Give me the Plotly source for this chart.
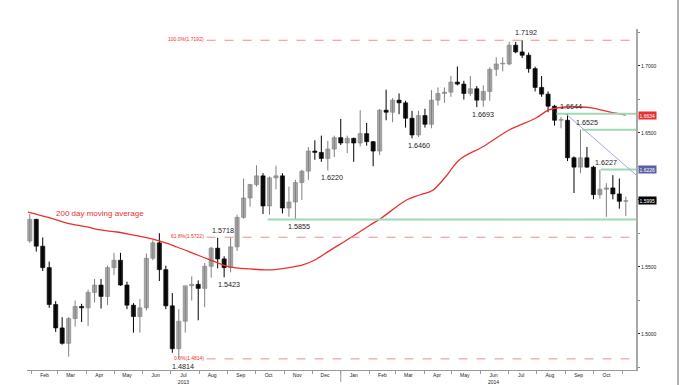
import pandas as pd
import plotly.graph_objects as go

# ---------------- data (GBP/USD, weekly OHLC) ----------------
first_week_mid = "2013-01-30"
opens = [1.5695, 1.5855, 1.5655, 1.5495, 1.5220, 1.5045, 1.4930, 1.5115, 1.5205, 1.5195,
         1.5310, 1.5365, 1.5280, 1.5495, 1.5550, 1.5365, 1.5215, 1.5130, 1.5195, 1.5565,
         1.5680, 1.5480, 1.5210, 1.4890, 1.5095, 1.5360, 1.5370, 1.5340, 1.5505, 1.5640,
         1.5560, 1.5495, 1.5650, 1.5870, 1.6015, 1.6115, 1.6180, 1.5955, 1.6165, 1.6180,
         1.5940, 1.5985, 1.6130, 1.6215, 1.6365, 1.6355, 1.6310, 1.6380, 1.6465,
         1.6425, 1.6460, 1.6425, 1.6495, 1.6435, 1.6365, 1.6670, 1.6655, 1.6745, 1.6725,
         1.6610, 1.6485, 1.6630, 1.6565, 1.6745, 1.6795, 1.6805, 1.6880, 1.6865, 1.6795,
         1.6830, 1.6745, 1.6810, 1.6975, 1.7015, 1.7015, 1.7155, 1.7105, 1.7080, 1.6980,
         1.6840, 1.6790, 1.6700, 1.6595, 1.6595, 1.6315, 1.6245, 1.6315, 1.6245, 1.6040,
         1.6080, 1.6090, 1.6045, 1.5990]
highs = [1.5895, 1.5860, 1.5720, 1.5540, 1.5245, 1.5125, 1.5125, 1.5250, 1.5225, 1.5330,
         1.5410, 1.5410, 1.5510, 1.5605, 1.5605, 1.5390, 1.5230, 1.5260, 1.5600, 1.5700,
         1.5752, 1.5510, 1.5305, 1.5185, 1.5350, 1.5430, 1.5400, 1.5530, 1.5650, 1.5718,
         1.5580, 1.5720, 1.5890, 1.6160, 1.6120, 1.6259, 1.6200, 1.6175, 1.6255, 1.6200,
         1.6100, 1.6150, 1.6225, 1.6395, 1.6445, 1.6480, 1.6440, 1.6480, 1.6605,
         1.6480, 1.6465, 1.6670, 1.6575, 1.6440, 1.6680, 1.6823, 1.6760, 1.6795, 1.6740,
         1.6665, 1.6665, 1.6680, 1.6820, 1.6840, 1.6840, 1.6925, 1.6996, 1.6890, 1.6925,
         1.6850, 1.6855, 1.6990, 1.7065, 1.7065, 1.7180, 1.7180, 1.7192, 1.7100, 1.6995,
         1.6925, 1.6810, 1.6710, 1.6620, 1.6644, 1.6325, 1.6525, 1.6395, 1.6255, 1.6227,
         1.6125, 1.6185, 1.6160, 1.6025]
lows = [1.5680, 1.5615, 1.5470, 1.5195, 1.5015, 1.4920, 1.4831, 1.5055, 1.5090, 1.5060,
        1.5235, 1.5190, 1.5215, 1.5440, 1.5360, 1.5185, 1.5010, 1.5010, 1.5175, 1.5550,
        1.5395, 1.5185, 1.4860, 1.4814, 1.5010, 1.5250, 1.5102, 1.5200, 1.5420, 1.5490,
        1.5423, 1.5460, 1.5620, 1.5860, 1.5950, 1.6100, 1.5895, 1.5890, 1.6080, 1.5900,
        1.5875, 1.5855, 1.6000, 1.6150, 1.6300, 1.6285, 1.6220, 1.6320, 1.6410,
        1.6350, 1.6285, 1.6400, 1.6405, 1.6252, 1.6335, 1.6595, 1.6580, 1.6640, 1.6540,
        1.6460, 1.6470, 1.6540, 1.6535, 1.6705, 1.6725, 1.6770, 1.6855, 1.6750, 1.6775,
        1.6693, 1.6695, 1.6740, 1.6925, 1.6960, 1.7005, 1.7095, 1.7060, 1.6950, 1.6810,
        1.6770, 1.6655, 1.6555, 1.6535, 1.6290, 1.6052, 1.6200, 1.6240, 1.6005, 1.6010,
        1.5875, 1.6005, 1.5935, 1.5880]
closes = [1.5855, 1.5655, 1.5495, 1.5220, 1.5045, 1.4930, 1.5115, 1.5205, 1.5195, 1.5310,
          1.5365, 1.5280, 1.5495, 1.5550, 1.5365, 1.5215, 1.5130, 1.5195, 1.5565, 1.5680,
          1.5480, 1.5210, 1.4890, 1.5095, 1.5360, 1.5370, 1.5340, 1.5505, 1.5640, 1.5560,
          1.5495, 1.5650, 1.5870, 1.6015, 1.6115, 1.6180, 1.5955, 1.6165, 1.6180, 1.5940,
          1.5985, 1.6130, 1.6215, 1.6365, 1.6355, 1.6310, 1.6380, 1.6465, 1.6425,
          1.6460, 1.6425, 1.6495, 1.6435, 1.6365, 1.6670, 1.6655, 1.6745, 1.6725, 1.6610,
          1.6485, 1.6630, 1.6565, 1.6745, 1.6795, 1.6805, 1.6880, 1.6865, 1.6795, 1.6830,
          1.6745, 1.6810, 1.6975, 1.7015, 1.7015, 1.7155, 1.7105, 1.7080, 1.6980, 1.6840,
          1.6790, 1.6700, 1.6595, 1.6595, 1.6315, 1.6245, 1.6315, 1.6245, 1.6040, 1.6080,
          1.6090, 1.6045, 1.5990, 1.5995]

ma_dates = ["2013-01-28", "2013-02-21", "2013-03-11", "2013-04-02", "2013-04-16", "2013-05-04",
            "2013-05-21", "2013-06-01", "2013-06-19", "2013-07-08", "2013-07-25", "2013-08-10",
            "2013-09-03", "2013-09-25", "2013-10-16", "2013-11-04", "2013-11-21", "2013-12-04",
            "2013-12-20", "2014-01-11", "2014-02-01", "2014-02-14", "2014-03-02", "2014-03-13",
            "2014-03-27", "2014-04-10", "2014-04-25", "2014-05-09", "2014-06-05", "2014-07-02",
            "2014-07-31", "2014-08-14", "2014-09-01", "2014-09-15", "2014-09-29", "2014-10-18",
            "2014-11-05"]
ma_values = [1.5910, 1.5866, 1.5828, 1.5799, 1.5776, 1.5761, 1.5739, 1.5724, 1.5694, 1.5649,
             1.5604, 1.5560, 1.5500, 1.5485, 1.5478, 1.5493, 1.5515, 1.5552, 1.5622, 1.5716,
             1.5810, 1.5866, 1.5948, 1.6000, 1.6037, 1.6071, 1.6179, 1.6299, 1.6403, 1.6522,
             1.6612, 1.6672, 1.6694, 1.6694, 1.6687, 1.6657, 1.6634]

fib_levels = [1.7192, 1.5722, 1.4814]
fib_labels = ["100.0%(1.7192)", "61.8%(1.5722)", "0.0%(1.4814)"]
fib_start = "2013-08-09"

level_values = [1.5855, 1.6644, 1.6525, 1.6227]
level_starts = ["2013-10-14", "2014-08-22", "2014-09-19", "2014-10-09"]

trend_dates = ["2014-09-01", "2014-11-16"]
trend_values = [1.6644, 1.6187]

swing_dates = ["2014-07-15", "2014-05-29", "2014-03-21", "2013-12-17", "2013-11-12",
               "2013-08-21", "2013-08-28", "2013-07-09", "2014-09-01", "2014-09-19", "2014-10-09"]
swing_values = [1.7192, 1.6693, 1.6460, 1.6220, 1.5855, 1.5718, 1.5423, 1.4814, 1.6644, 1.6525, 1.6227]
swing_is_high = [True, False, False, False, False, True, False, False, True, True, True]

month_dates = ["2013-02-15", "2013-03-15", "2013-04-15", "2013-05-15", "2013-06-15", "2013-07-15",
               "2013-08-15", "2013-09-15", "2013-10-15", "2013-11-15", "2013-12-15", "2014-01-15",
               "2014-02-15", "2014-03-15", "2014-04-15", "2014-05-15", "2014-06-15", "2014-07-15",
               "2014-08-15", "2014-09-15", "2014-10-15"]
month_labels = ["Feb", "Mar", "Apr", "May", "Jun", "Jul<br>2013", "Aug", "Sep", "Oct", "Nov", "Dec",
                "Jan", "Feb", "Mar", "Apr", "May", "Jun<br>2014", "Jul", "Aug", "Sep", "Oct"]
month_starts = ["2013-02-01", "2013-03-01", "2013-04-01", "2013-05-01", "2013-06-01", "2013-07-01",
                "2013-08-01", "2013-09-01", "2013-10-01", "2013-11-01", "2013-12-01", "2014-01-01",
                "2014-02-01", "2014-03-01", "2014-04-01", "2014-05-01", "2014-06-01", "2014-07-01",
                "2014-08-01", "2014-09-01", "2014-10-01", "2014-11-01"]
y_ticks = [1.50, 1.55, 1.60, 1.65, 1.70]

# ---------------- figure ----------------
X_RANGE = ["2013-01-27", "2014-11-16"]
Y_RANGE = [1.4731, 1.7276]
RED = "#e8312f"
GREEN = "#9fd8b4"
FONT = "Liberation Sans"
UP_FILL, UP_LINE = "#a9a9a9", "#808080"
DN_FILL, DN_LINE = "#111111", "#000000"
BODY_WIDTH_MS = 4.5 * 24 * 3600 * 1000

dates = pd.date_range(first_week_mid, periods=len(closes), freq="7D")

fig = go.Figure()
# candles drawn as wick lines + bar bodies (narrow, like the dense daily bars of the original)
for up in (True, False):
    idx = [i for i in range(len(closes)) if (closes[i] >= opens[i]) == up]
    wx, wy = [], []
    for i in idx:
        wx += [dates[i], dates[i], None]
        wy += [lows[i], highs[i], None]
    fig.add_trace(go.Scatter(x=wx, y=wy, mode="lines", line=dict(color=UP_LINE if up else DN_LINE, width=1),
                             showlegend=False, hoverinfo="skip"))
    fig.add_trace(go.Bar(
        x=[dates[i] for i in idx],
        y=[max(abs(closes[i] - opens[i]), 0.0005) for i in idx],
        base=[min(closes[i], opens[i]) for i in idx],
        width=BODY_WIDTH_MS,
        marker=dict(color=UP_FILL if up else DN_FILL, line=dict(color=UP_LINE if up else DN_LINE, width=0.6)),
        showlegend=False, hoverinfo="skip"))

fig.add_trace(go.Scatter(x=ma_dates, y=ma_values, mode="lines", line=dict(color=RED, width=1.3, shape="spline"),
                         showlegend=False, hoverinfo="skip"))

shapes = []
annotations = []
for lvl, lab in zip(fib_levels, fib_labels):
    shapes.append(dict(type="line", xref="x", yref="y", x0=fib_start, x1=X_RANGE[1], y0=lvl, y1=lvl,
                       line=dict(color="#f28b8b", width=1, dash="dash")))
    annotations.append(dict(x=fib_start, y=lvl, xref="x", yref="y", text=lab, showarrow=False,
                            xanchor="right", yanchor="middle", xshift=-1, yshift=1,
                            font=dict(family=FONT, size=5, color=RED)))
for lvl, st in zip(level_values, level_starts):
    shapes.append(dict(type="line", xref="x", yref="y", x0=st, x1=X_RANGE[1], y0=lvl, y1=lvl,
                       line=dict(color=GREEN, width=2)))
shapes.append(dict(type="line", xref="x", yref="y", x0=trend_dates[0], x1=trend_dates[1],
                   y0=trend_values[0], y1=trend_values[1], line=dict(color="#a3a9d6", width=1)))
# frame line at far right, long year tick
shapes.append(dict(type="line", xref="paper", yref="paper", x0=1.069, x1=1.069, y0=-0.06, y1=1.09,
                   line=dict(color="#9a9a9a", width=1.5)))
shapes.append(dict(type="line", xref="x", yref="paper", x0="2014-01-01", x1="2014-01-01", y0=0, y1=-0.035,
                   line=dict(color="#9a9a9a", width=1)))

for d, v, hi in zip(swing_dates, swing_values, swing_is_high):
    annotations.append(dict(x=d, y=v, xref="x", yref="y", text=f"{v:.4f}", showarrow=False,
                            xanchor="center", yanchor="bottom" if hi else "top",
                            xshift=5, yshift=1 if hi else -1,
                            font=dict(family=FONT, size=7.2, color="#1a1a1a")))

annotations.append(dict(x="2013-04-16", y=ma_values[0], xref="x", yref="y", text="200 day moving average",
                        showarrow=False, xanchor="center", yanchor="middle", yshift=-1,
                        font=dict(family=FONT, size=8, color=RED)))

# right-hand value boxes
box_specs = [(ma_values[-1], RED), (level_values[3] - 0.0001, "#5a5fa8"), (closes[-1], "#000000")]
for val, col in box_specs:
    annotations.append(dict(x=1, y=val, xref="paper", yref="y", text=f"{val:.4f}", showarrow=False,
                            xanchor="left", yanchor="middle", xshift=2, bgcolor=col, borderpad=0.5,
                            font=dict(family=FONT, size=5, color="white")))

fig.update_layout(
    width=688, height=385, margin=dict(l=27, r=52, t=29, b=15, autoexpand=False),
    paper_bgcolor="white", plot_bgcolor="white", showlegend=False, barmode="overlay",
    shapes=shapes, annotations=annotations,
    xaxis=dict(type="date", range=X_RANGE, showgrid=False, zeroline=False, automargin=False,
               showline=True, linecolor="#9a9a9a", linewidth=1,
               tickmode="array", tickvals=month_dates, ticktext=month_labels, ticks="",
               tickfont=dict(family=FONT, size=5, color="#222"),
               minor=dict(tickmode="array", tickvals=month_starts, ticks="outside", ticklen=3,
                          tickcolor="#9a9a9a", showgrid=False)),
    yaxis=dict(side="right", range=Y_RANGE, showgrid=False, zeroline=False, automargin=False,
               showline=True, linecolor="#a8a8a8", linewidth=2,
               tickmode="array", tickvals=y_ticks, ticktext=[f"{t:.4f}" for t in y_ticks],
               ticks="outside", ticklen=2, tickcolor="#333",
               tickfont=dict(family=FONT, size=5, color="#222"),
               minor=dict(dtick=0.025, ticks="outside", ticklen=2, tickcolor="#888", showgrid=False)),
)

fig.write_html("out.html", config={"displayModeBar": False},
               post_script="document.body.style.margin='0';document.body.style.padding='0';")
